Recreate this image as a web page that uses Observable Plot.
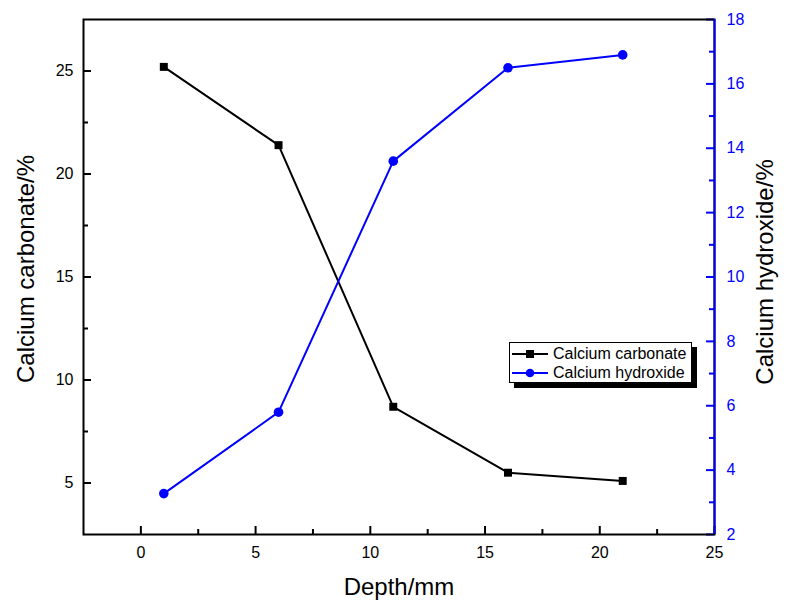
<!DOCTYPE html>
<html>
<head>
<meta charset="utf-8">
<script src="https://cdn.jsdelivr.net/npm/d3@7"></script>
<script src="https://cdn.jsdelivr.net/npm/@observablehq/plot@0.6"></script>
<style>
  body { margin: 0; background: #fff; font-family: "Liberation Sans", Arial, sans-serif; }
  #wrap { position: relative; width: 787px; height: 604px; }
  #legend { position: absolute; left: 509px; top: 342px; width: 183px; height: 41px;
    border: 1px solid #000; background: #fff; box-shadow: 5px 5px 0 #000;
    font-size: 16px; color: #000; box-sizing: border-box; padding-top: 1px; }
  #legend .row { display: flex; align-items: center; height: 19px; white-space: nowrap; }
  #legend svg { display: block; margin-right: 3px; }
</style>
</head>
<body>
<div id="wrap"></div>
<script>
// ---- data ----
const depth = [1, 6, 11, 16, 21];
const carbonate = [25.2, 21.4, 8.7, 5.5, 5.1];
const hydroxide = [3.27, 5.8, 13.6, 16.5, 16.9];
const seriesNames = ["Calcium carbonate", "Calcium hydroxide"];
const xTicks = [0, 5, 10, 15, 20, 25];
const xMinor = [2.5, 7.5, 12.5, 17.5, 22.5];
const yLeftTicks = [5, 10, 15, 20, 25];
const yLeftMinor = [7.5, 12.5, 17.5, 22.5];
const yRightTicks = [2, 4, 6, 8, 10, 12, 14, 16, 18];
const yRightMinor = [3, 5, 7, 9, 11, 13, 15, 17];
const xLabel = "Depth/mm";
const yLeftLabel = "Calcium carbonate/%";
const yRightLabel = "Calcium hydroxide/%";

// ---- scales ----
const xDomain = [-2.5, 25];
const yDomain = [2.5, 27.5];
const rDomain = [2, 18];
const toLeft = v => yDomain[0] + (v - rDomain[0]) * (yDomain[1] - yDomain[0]) / (rDomain[1] - rDomain[0]);
const fromLeft = y => rDomain[0] + (y - yDomain[0]) * (rDomain[1] - rDomain[0]) / (yDomain[1] - yDomain[0]);

const W = 787, H = 604, mL = 83, mR = 73, mT = 19, mB = 70;
const pw = W - mL - mR, ph = H - mT - mB;
const blue = "#0000ff";

const carbData = depth.map((d, i) => ({x: d, y: carbonate[i]}));
const hydData = depth.map((d, i) => ({x: d, y: toLeft(hydroxide[i])}));

const chart = Plot.plot({
  width: W, height: H,
  marginLeft: mL, marginRight: mR, marginTop: mT, marginBottom: mB,
  style: {fontFamily: "'Liberation Sans', Arial, sans-serif", fontSize: "16px", background: "#fff", color: "#000"},
  x: {domain: xDomain},
  y: {domain: yDomain},
  marks: [
    // ticks (inward)
    Plot.tickX(xTicks, {x: d => d, stroke: "#000", strokeWidth: 2, insetTop: ph - 8}),
    Plot.tickX(xMinor, {x: d => d, stroke: "#000", strokeWidth: 2, insetTop: ph - 5}),
    Plot.tickY(yLeftTicks, {y: d => d, stroke: "#000", strokeWidth: 2, insetRight: pw - 8}),
    Plot.tickY(yLeftMinor, {y: d => d, stroke: "#000", strokeWidth: 2, insetRight: pw - 5}),
    Plot.tickY(yRightTicks.map(toLeft), {y: d => d, stroke: blue, strokeWidth: 2, insetLeft: pw - 8}),
    Plot.tickY(yRightMinor.map(toLeft), {y: d => d, stroke: blue, strokeWidth: 2, insetLeft: pw - 5}),
    // frame
    Plot.frame({stroke: "#000", strokeWidth: 2}),
    Plot.ruleX([xDomain[1]], {stroke: blue, strokeWidth: 2}),
    // axes labels
    Plot.axisX({ticks: xTicks, tickSize: 0, tickPadding: 12, label: null, fill: "#000"}),
    Plot.axisY({anchor: "left", ticks: yLeftTicks, tickSize: 0, tickPadding: 10, label: null, fill: "#000"}),
    Plot.axisY({anchor: "right", ticks: yRightTicks.map(toLeft), tickFormat: y => String(Math.round(fromLeft(y))),
      tickSize: 0, tickPadding: 12, label: null, fill: blue}),
    // titles
    Plot.text([xLabel], {text: d => d, frameAnchor: "bottom", textAnchor: "middle", lineAnchor: "middle", dy: 53, fontSize: 24, fill: "#000"}),
    Plot.text([yLeftLabel], {text: d => d, frameAnchor: "left", textAnchor: "middle", lineAnchor: "middle", rotate: -90, dx: -57, dy: -8, fontSize: 24, fill: "#000"}),
    Plot.text([yRightLabel], {text: d => d, frameAnchor: "right", textAnchor: "middle", lineAnchor: "middle", rotate: -90, dx: 51, dy: -5, fontSize: 24, fill: "#000"}),
    // series
    Plot.line(carbData, {x: "x", y: "y", stroke: "#000", strokeWidth: 2}),
    Plot.dot(carbData, {x: "x", y: "y", symbol: "square", r: 4.5, fill: "#000", stroke: "none"}),
    Plot.line(hydData, {x: "x", y: "y", stroke: blue, strokeWidth: 2}),
    Plot.dot(hydData, {x: "x", y: "y", symbol: "circle", r: 4.8, fill: blue, stroke: "none"})
  ]
});

const wrap = document.getElementById("wrap");
wrap.appendChild(chart);

// legend
const legend = document.createElement("div");
legend.id = "legend";
const samples = [
  {name: seriesNames[0], color: "#000", shape: "square"},
  {name: seriesNames[1], color: blue, shape: "circle"}
];
legend.innerHTML = samples.map(s => `
  <div class="row">
    <svg width="40" height="14"><line x1="2" y1="7" x2="38" y2="7" stroke="${s.color}" stroke-width="2"/>
    ${s.shape === "square" ? `<rect x="16" y="3" width="8" height="8" fill="${s.color}"/>` : `<circle cx="20" cy="7" r="4.3" fill="${s.color}"/>`}
    </svg><span>${s.name}</span>
  </div>`).join("");
wrap.appendChild(legend);
</script>
</body>
</html>
